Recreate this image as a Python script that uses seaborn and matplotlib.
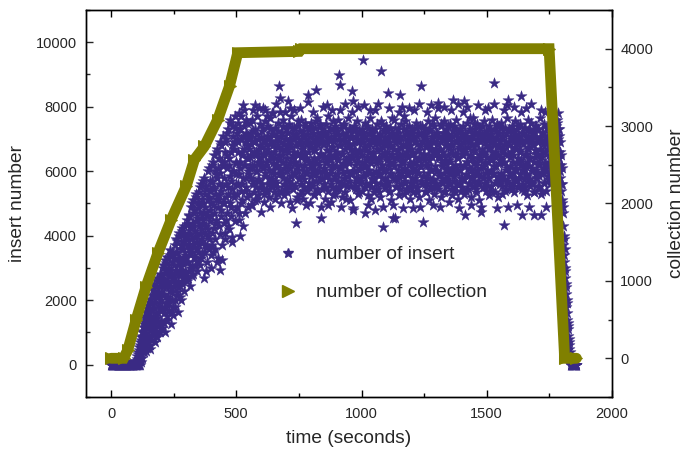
import numpy as np
import pandas as pd
import seaborn as sns
import matplotlib
matplotlib.use("Agg")
import matplotlib.pyplot as plt
from matplotlib.lines import Line2D
from matplotlib.ticker import MultipleLocator

sns.set_style("ticks")
plt.rcParams["font.family"] = ["Liberation Sans", "DejaVu Sans"]

# ---------------- data ----------------
# insert number read at even seconds, t = 0, 2, ..., 1858
insert_even = [
    # 0-48
    0, 0, 0, 0, 0, 0, 0, 0, 0, 0, 0, 0, 0, 0, 0, 0, 0, 0, 0, 0, 0, 0, 0, 0, 0,
    # 50-98
    0, 0, 0, 0, 0, 0, 0, 0, 0, 0, 0, 0, 0, 0, 0, 0, 0, 0, 0, 0, 0, 40, 0, 90, 0,
    # 100-148
    0, 180, 0, 320, 60, 450, 0, 620, 250, 780, 100, 880, 420, 1050, 560, 1250, 380, 980, 1450, 720, 1650, 1150, 520, 1580, 1850,
    # 150-198
    900, 1400, 620, 1950, 1100, 760, 1700, 2150, 980, 1500, 2300, 1250, 700, 1900, 2450, 1350, 850, 2100, 1600, 2600, 1050, 2250, 1750, 2800, 1300,
    # 200-248
    2000, 2700, 1150, 2400, 3000, 1600, 2200, 1000, 2850, 1900, 3150, 2500, 1400, 3300, 2100, 2750, 1700, 3400, 2300, 1250, 2950, 3500, 2000, 2600, 1550,
    # 250-298
    3100, 2400, 3700, 1800, 2800, 3450, 2150, 3850, 2600, 1650, 3300, 4000, 2450, 2950, 3600, 2000, 4150, 3150, 2700, 3800, 2300, 4300, 3400, 2850, 3950,
    # 300-348
    3300, 4500, 2600, 3700, 4100, 2900, 4650, 3500, 2450, 4250, 3900, 5000, 3100, 4400, 2800, 3650, 4800, 4150, 3300, 5200, 3800, 2900, 4550, 5050, 3500,
    # 350-398
    4300, 5350, 3100, 4700, 3900, 5600, 4200, 3400, 5000, 4500, 2700, 5800, 3700, 4900, 4300, 5450, 3200, 4650, 6000, 4000, 5200, 3600, 5700, 4450, 3000,
    # 400-448
    5000, 6200, 4100, 5500, 3500, 4700, 6500, 5300, 3900, 5900, 4500, 6700, 3200, 5100, 6100, 4300, 5600, 2950, 6900, 4800, 5400, 3700, 6300, 5000, 7100,
    # 450-498
    4400, 5800, 6600, 3900, 5200, 7000, 4700, 6100, 5500, 7300, 4200, 6400, 5000, 7600, 5700, 4600, 6800, 3950, 6000, 7400, 5300, 6700, 4800, 7700, 5900,
    # 500-548
    6300, 4900, 7200, 5600, 6900, 4500, 7800, 3980, 6100, 5400, 7000, 6600, 5100, 8050, 5800, 7400, 6200, 4700, 6900, 5500, 7600, 6400, 5200, 7100, 6000,
    # 550-598
    6700, 5300, 7500, 6100, 5800, 7200, 4950, 6500, 7900, 5600, 6900, 6200, 5100, 7300, 6600, 5500, 7700, 6000, 5250, 7000, 6400, 5700, 7450, 6800, 4750,
    # 600-648
    6150, 7250, 5450, 7960, 6550, 5050, 6950, 5850, 7550, 6300, 5350, 7100, 6700, 5600, 7400, 6050, 5200, 6850, 7650, 5750, 6450, 7150, 5500, 6250, 7800,
    # 650-698
    5900, 6600, 5150, 7350, 6200, 5650, 7050, 6750, 5300, 7500, 6350, 8630, 8270, 5950, 6900, 5400, 7200, 6500, 5800, 7600, 6100, 5250, 7000, 6650, 5550,
    # 700-748
    7300, 6000, 5350, 8170, 6800, 5700, 7450, 6250, 5050, 6950, 7700, 5600, 6400, 7150, 5450, 6600, 7350, 5900, 6300, 4390, 7050, 6150, 5200, 7550, 6500,
    # 750-798
    5750, 6850, 7250, 5300, 6450, 7600, 5850, 6700, 5150, 7100, 6200, 5500, 7400, 6550, 5950, 7000, 6350, 5400, 8375, 6900, 5650, 7300, 6100, 5000, 6750,
    # 800-848
    7500, 5550, 6300, 7150, 5900, 6650, 5250, 7350, 6050, 8530, 5700, 6950, 7650, 6400, 5350, 7050, 6200, 5800, 7400, 4550, 6550, 7200, 5450, 6850, 6000,
    # 850-898
    5600, 7100, 6450, 5150, 7450, 6250, 5850, 6900, 7700, 5400, 6600, 7250, 5950, 6350, 5050, 7000, 6750, 5500, 7550, 6150, 5750, 6950, 7300, 5300, 6500,
    # 900-948
    7150, 5900, 6400, 7600, 5450, 6800, 8997, 8680, 6100, 5650, 7350, 6550, 5200, 7000, 6250, 5800, 7450, 6700, 5350, 6950, 7200, 6000, 5550, 7650, 6350,
    # 950-998
    5700, 6850, 7300, 5100, 6500, 7050, 5950, 8480, 8170, 4800, 6650, 7400, 5500, 6200, 7100, 5800, 6450, 7550, 5300, 6900, 6050, 7250, 5650, 6600, 7000,
    # 1000-1048
    5400, 6300, 9463, 7150, 5850, 6750, 4700, 7500, 6150, 5600, 7000, 6450, 5250, 7350, 6600, 5950, 6850, 7650, 5500, 6250, 7200, 5750, 6550, 7050, 5350,
    # 1050-1098
    6400, 4800, 7300, 6000, 5650, 6900, 7450, 5450, 6350, 7100, 5900, 6700, 5200, 7550, 9100, 6200, 5800, 6950, 4285, 7250, 6500, 5550, 6800, 7400, 6050,
    # 1100-1148
    5700, 6600, 8430, 7000, 5350, 6300, 7350, 5950, 6750, 5100, 7200, 6450, 4550, 5800, 7600, 6150, 4545, 6900, 5500, 7050, 6400, 5750, 7300, 6650, 5250,
    # 1150-1198
    6950, 8375, 6200, 5600, 7450, 6550, 5850, 7100, 6350, 5300, 7700, 6050, 5700, 6800, 7250, 5450, 6500, 7000, 5900, 6700, 7400, 5150, 6250, 7150, 5650,
    # 1200-1248
    6600, 7300, 4857, 6100, 5550, 7050, 6450, 5800, 7500, 6300, 5350, 6850, 7200, 5950, 6650, 5200, 7400, 6150, 5700, 8633, 6950, 6400, 4440, 7150, 5850,
    # 1250-1298
    6550, 7350, 5400, 6200, 7000, 5650, 6800, 7550, 5950, 6350, 5100, 7250, 6700, 5500, 6050, 7450, 6450, 5750, 6900, 7100, 5300, 6600, 7650, 6000, 5600,
    # 1300-1348
    6850, 7200, 8117, 5450, 6400, 7050, 5900, 6650, 5200, 7400, 6150, 5700, 7000, 6500, 5350, 7550, 6250, 5800, 6950, 7300, 5550, 6100, 6750, 7150, 5050,
    # 1350-1398
    6350, 7450, 5650, 6800, 6000, 5250, 7100, 8220, 6550, 5850, 7350, 6200, 5500, 6900, 7600, 5950, 6450, 5150, 7050, 6700, 5600, 7250, 6050, 5400, 6850,
    # 1400-1448
    7150, 5750, 6500, 7400, 5300, 8170, 4650, 6600, 7000, 5900, 6300, 7500, 5450, 6750, 6100, 5650, 7300, 6950, 5200, 6400, 7050, 5800, 6650, 7650, 5550,
    # 1450-1498
    6250, 7200, 5950, 5350, 6850, 7450, 6050, 5700, 7000, 6500, 5100, 7350, 6350, 5850, 4750, 6700, 7100, 5500, 6150, 7550, 6600, 5650, 6900, 7250, 5400,
    # 1500-1548
    6450, 7000, 5800, 6300, 7400, 5250, 6750, 7150, 6000, 5550, 7600, 6400, 5900, 6950, 7300, 8740, 5350, 6600, 7050, 6150, 5700, 7450, 6500, 5200, 6850,
    # 1550-1598
    7200, 5600, 6350, 7500, 5950, 6700, 5300, 7050, 6250, 5750, 4340, 7350, 6550, 5450, 6900, 7650, 6100, 8220, 5650, 6800, 7250, 5850, 6450, 7000, 5500,
    # 1600-1648
    6600, 7400, 5950, 6300, 7100, 5350, 6750, 7550, 6050, 5700, 6950, 7300, 5500, 6400, 7000, 5800, 6650, 7450, 6200, 8323, 4650, 7200, 5600, 6850, 6100,
    # 1650-1698
    5400, 7350, 6500, 5900, 7050, 6300, 5250, 7600, 6700, 5750, 6150, 7250, 5550, 6900, 7500, 6000, 5650, 6800, 7150, 5350, 4650, 6450, 7400, 6050, 5800,
    # 1700-1748
    7000, 6550, 5500, 7300, 6200, 5850, 7650, 6400, 5300, 4650, 6950, 7200, 5950, 6600, 7450, 5650, 6250, 7050, 5400, 6850, 7350, 6000, 5750, 6700, 7100,
    # 1750-1798
    6300, 7200, 5600, 6900, 7500, 6100, 7000, 5800, 7400, 6600, 7600, 6800, 7300, 7400, 6900, 7600, 7100, 7800, 6600, 7300, 6200, 6900, 5800, 6500, 5400,
    # 1800-1848
    6100, 5100, 4300, 3700, 4000, 3200, 2700, 3000, 2200, 1800, 2000, 1400, 900, 1100, 500, 600, 200, 300, 0, 100, 0, 0, 0, 0, 0,
    # 1850-1858
    0, 0, 0, 0, 0,
]

# insert number read at odd seconds, t = 1, 3, ..., 1857
insert_odd = [
    # 1-49
    0, 0, 0, 0, 0, 0, 0, 0, 0, 0, 0, 0, 0, 0, 0, 0, 0, 0, 0, 0, 0, 0, 0, 0, 0,
    # 51-99
    0, 0, 0, 0, 0, 0, 0, 0, 0, 0, 0, 0, 0, 0, 0, 0, 0, 0, 0, 0, 0, 70, 0, 130, 0,
    # 101-149
    90, 0, 260, 0, 400, 150, 560, 0, 700, 340, 850, 200, 1000, 500, 1180, 650, 1350, 830, 1500, 420, 1280, 1750, 900, 1400, 700,
    # 151-199
    1650, 1200, 500, 2050, 1450, 850, 1900, 1300, 2350, 1000, 1750, 2500, 1150, 2050, 900, 1600, 2700, 1450, 2200, 1200, 2450, 1900, 1000, 2650, 1700,
    # 201-249
    1350, 2550, 1800, 3100, 2150, 1300, 2650, 3250, 1750, 2400, 2900, 1500, 3350, 2050, 2600, 3000, 1900, 2450, 3550, 1600, 2800, 3200, 2250, 1800, 3400,
    # 251-299
    2700, 3300, 2000, 2550, 3900, 2900, 2250, 3500, 3100, 2400, 4100, 2800, 3250, 2100, 3700, 3050, 2550, 4250, 3600, 2850, 3350, 4050, 2650, 3750, 3200,
    # 301-349
    2850, 3900, 4350, 3200, 2700, 4600, 3600, 4050, 3000, 4900, 3450, 2750, 4300, 3750, 5100, 3350, 4700, 3950, 3050, 4450, 5300, 3600, 4000, 3200, 4850,
    # 351-399
    3700, 4950, 4100, 5500, 3300, 4550, 5150, 3850, 4350, 5700, 3500, 4750, 5300, 4050, 2900, 5550, 4600, 3650, 5100, 4200, 6100, 3900, 4800, 5400, 3400,
    # 401-449
    4600, 5700, 3700, 6300, 4950, 4250, 5450, 6000, 3600, 5150, 4400, 6600, 5800, 3300, 4900, 6400, 5250, 4050, 5950, 6800, 4600, 5550, 3250, 6150, 5050,
    # 451-499
    6300, 5000, 4100, 6900, 5600, 4500, 6500, 7200, 5300, 4300, 6200, 5850, 7500, 4900, 6600, 5450, 3800, 7100, 6000, 5200, 6900, 4450, 7350, 6250, 5600,
    # 501-549
    7000, 5300, 6600, 7500, 4700, 5900, 7300, 6300, 5000, 7700, 6500, 5600, 7100, 4300, 6700, 7900, 5400, 6200, 7200, 5800, 6800, 7500, 4900, 6400, 7000,
    # 551-599
    5900, 7050, 6450, 4950, 6850, 7600, 6150, 5700, 7250, 6600, 5350, 6950, 8050, 6000, 6550, 5150, 7150, 6300, 5750, 7950, 6700, 5500, 6250, 7050, 6450,
    # 601-649
    5600, 6750, 7350, 6100, 5300, 6500, 7900, 5950, 6850, 6200, 7700, 5450, 6600, 7000, 5800, 6350, 7300, 4900, 6950, 6500, 5650, 7800, 6050, 6800, 5350,
    # 651-699
    7150, 6400, 5700, 6950, 8100, 6150, 5500, 6750, 7250, 5900, 6500, 7850, 6050, 5000, 7100, 6700, 5950, 7400, 6300, 5600, 6850, 7850, 5450, 6200, 7000,
    # 701-749
    6400, 5750, 7200, 6600, 5500, 6950, 7950, 6100, 5850, 6750, 7350, 4850, 6500, 7000, 5950, 7900, 6250, 5550, 6800, 7150, 5100, 6550, 7400, 6050, 5800,
    # 751-799
    6900, 7950, 6200, 5600, 7000, 6550, 5400, 7250, 6750, 6000, 5750, 7500, 6400, 4950, 6850, 7150, 5950, 6600, 8150, 5500, 6300, 7050, 6800, 5850, 7350,
    # 801-849
    6150, 5650, 6900, 7850, 6400, 5300, 7000, 6650, 5900, 7550, 6250, 5450, 6800, 7200, 6000, 5700, 7450, 6550, 4900, 6950, 7300, 5800, 6450, 8000, 6100,
    # 851-899
    6850, 5500, 7200, 6300, 5900, 8050, 6650, 4950, 7050, 6450, 5750, 6950, 7350, 6050, 5600, 7900, 6200, 5250, 6750, 7100, 6500, 5850, 7400, 6150, 5450,
    # 901-949
    6600, 7250, 5700, 6350, 7000, 5500, 7900, 6800, 6100, 4900, 7150, 6550, 5950, 7400, 6200, 5600, 6900, 8100, 6350, 5150, 6750, 7100, 5850, 6450, 7300,
    # 951-999
    6250, 5550, 7050, 6700, 5900, 7850, 6400, 4850, 6850, 7250, 6000, 5650, 7350, 6550, 5450, 7000, 6300, 5800, 8000, 6650, 5350, 6950, 7200, 6100, 5700,
    # 1001-1049
    7300, 6500, 5850, 6900, 8050, 6200, 5500, 7100, 6650, 5950, 7400, 6350, 4950, 6800, 7200, 6050, 5650, 7900, 6450, 5150, 6950, 7300, 5900, 6600, 7050,
    # 1051-1099
    5750, 6850, 7900, 6250, 5450, 7000, 6700, 5950, 8100, 6400, 5350, 6900, 7150, 6100, 5600, 7450, 6550, 4900, 6750, 7300, 6000, 5800, 7050, 6450, 5500,
    # 1101-1149
    7250, 6350, 5650, 6900, 7950, 6150, 5400, 6800, 7100, 5900, 6550, 7650, 6250, 4950, 7000, 6700, 5750, 7350, 6400, 5550, 6950, 7200, 6050, 5850, 7850,
    # 1151-1199
    6500, 5450, 7050, 6750, 5950, 8000, 6300, 4850, 6850, 7300, 6100, 5650, 7550, 6600, 5400, 6950, 7150, 5900, 6450, 7950, 6200, 5500, 6800, 7250, 6000,
    # 1201-1249
    5800, 7000, 6550, 5350, 7900, 6250, 5700, 6900, 7350, 6050, 5500, 7100, 6650, 5950, 8100, 6400, 4900, 6800, 7200, 6150, 5600, 7400, 6500, 5850, 7050,
    # 1251-1299
    6350, 5600, 7150, 6750, 5350, 6950, 7850, 6200, 5800, 7300, 6500, 5450, 6850, 8050, 6050, 5700, 7050, 6600, 4950, 6900, 7400, 6150, 5550, 6700, 7200,
    # 1301-1349
    6000, 5500, 7950, 6450, 5850, 7050, 6700, 4900, 6900, 7450, 6250, 5650, 7200, 6600, 5950, 8000, 6350, 5400, 6800, 7100, 6050, 5750, 7400, 6500, 5600,
    # 1351-1399
    7000, 6300, 5900, 7900, 6650, 5450, 6850, 7250, 6100, 5700, 7400, 6550, 5350, 6950, 7150, 6000, 5600, 8100, 6400, 4850, 6750, 7300, 6200, 5800, 7050,
    # 1401-1449
    6550, 5500, 6900, 7850, 6150, 5750, 7200, 6700, 5400, 7050, 8000, 6300, 5850, 6950, 7250, 5600, 6500, 7650, 6050, 4950, 6800, 7100, 6400, 5950, 7450,
    # 1451-1499
    5700, 6650, 7300, 6200, 5450, 7000, 6850, 5900, 8050, 6400, 5600, 6950, 7200, 6100, 4900, 7400, 6600, 5800, 7050, 6500, 5500, 7900, 6250, 5950, 6800,
    # 1501-1549
    7150, 6050, 5550, 7950, 6700, 5800, 6900, 7300, 6350, 5400, 7050, 6600, 5950, 8100, 6150, 5650, 6850, 7250, 6450, 4850, 7000, 6750, 5850, 7400, 6250,
    # 1551-1599
    5750, 6950, 7350, 6450, 5550, 7100, 6650, 5850, 7900, 6300, 5400, 6800, 7200, 6050, 5700, 8050, 6550, 4900, 6900, 7300, 6150, 5950, 7050, 6600, 5450,
    # 1601-1649
    7250, 6500, 5650, 6950, 8000, 6100, 5800, 7150, 6700, 4950, 6850, 7400, 6250, 5550, 7050, 6600, 5900, 7850, 6350, 5450, 6900, 7200, 6050, 5750, 7350,
    # 1651-1699
    6200, 5500, 6950, 7950, 6550, 5850, 7100, 6750, 4900, 7300, 6400, 5700, 7000, 8100, 6100, 5600, 6850, 7250, 6300, 5350, 7050, 6650, 5950, 7400, 6500,
    # 1701-1749
    5800, 6900, 7300, 6250, 5550, 7050, 6700, 5950, 7900, 6450, 5400, 6850, 7200, 6100, 5650, 7850, 6600, 4900, 6950, 7350, 6150, 5850, 7100, 6500, 7000,
    # 1751-1799
    6800, 5900, 7300, 6500, 7100, 6200, 7500, 6700, 7200, 6400, 7000, 7400, 6900, 7100, 7500, 6800, 7300, 7000, 6400, 7100, 6000, 6600, 5600, 6200, 5000,
    # 1801-1849
    5600, 4700, 4900, 3900, 3400, 3600, 2900, 2500, 2400, 1900, 1600, 1200, 1300, 700, 800, 400, 150, 0, 0, 0, 0, 0, 0, 0, 0,
    # 1851-1857
    0, 0, 0, 0,
]

# collection number (right axis), read at the corners of the curve
collection_time = [0, 50, 67, 100, 140, 187, 240, 300, 333, 373, 426, 473, 506,
                   752, 760, 1749, 1811, 1858]
collection_number = [0, 0, 107, 496, 927, 1359, 1790, 2221, 2567, 2739, 3085, 3516, 3948,
                     3965, 4000, 4000, 0, 0]

star_color = "#3a2a84"
olive = "#808000"

df_ins = pd.concat([
    pd.DataFrame({"time": np.arange(len(insert_even)) * 2, "insert": insert_even}),
    pd.DataFrame({"time": np.arange(len(insert_odd)) * 2 + 1, "insert": insert_odd}),
]).sort_values("time").reset_index(drop=True)
df_col = pd.DataFrame({"time": collection_time, "collection": collection_number})

# ---------------- figure ----------------
fig = plt.figure(figsize=(6.84, 4.5), dpi=100)
ax = fig.add_axes([0.1257, 0.1178, 0.7690, 0.86])
ax2 = ax.twinx()

sns.scatterplot(data=df_ins, x="time", y="insert", ax=ax, marker="*", s=70,
                color=star_color, edgecolor=star_color, linewidth=0.3, legend=False)
sns.lineplot(data=df_col, x="time", y="collection", ax=ax2, color=olive,
             sort=False, estimator=None, lw=7.8, marker=">", markersize=8,
             markeredgecolor=olive, solid_joinstyle="miter", legend=False)

ax.set_xlim(-100, 2000)
ax.set_ylim(-1000, 11000)
ax2.set_ylim(-500, 4500)

tick_fs = 10.5
label_fs = 13.8

ax.xaxis.set_major_locator(MultipleLocator(500))
ax.xaxis.set_minor_locator(MultipleLocator(250))
ax.yaxis.set_major_locator(MultipleLocator(2000))
ax.yaxis.set_minor_locator(MultipleLocator(1000))
ax2.yaxis.set_major_locator(MultipleLocator(1000))
ax2.yaxis.set_minor_locator(MultipleLocator(500))

ax.tick_params(axis="x", which="both", direction="in", top=True, bottom=True,
               labelsize=tick_fs, pad=7, width=1.0, color="black")
ax.tick_params(axis="y", which="both", direction="in", left=True, right=False,
               labelsize=tick_fs, pad=6.5, width=1.0)
ax2.tick_params(axis="y", which="both", direction="in", right=True, left=False,
                labelsize=tick_fs, pad=6, width=1.0)
for a in (ax, ax2):
    a.tick_params(which="major", length=5.3)
    a.tick_params(which="minor", length=3)
    for sp in a.spines.values():
        sp.set_visible(True)
        sp.set_linewidth(1.0)
        sp.set_color("black")

ax.set_xlabel("time (seconds)", fontsize=label_fs, labelpad=7)
ax.set_ylabel("insert number", fontsize=label_fs, labelpad=7)
ax2.set_ylabel("collection number", fontsize=label_fs, labelpad=11)

handles = [
    Line2D([], [], ls="none", marker="*", markersize=7, color=star_color),
    Line2D([], [], ls="none", marker=">", markersize=8, color=olive),
]
ax2.legend(handles, ["number of insert", "number of collection"],
           loc="upper left", bbox_to_anchor=(0.366, 0.390), frameon=False,
           fontsize=label_fs, handlelength=1.0, handletextpad=0.94,
           labelspacing=1.06, borderpad=0, borderaxespad=0)

fig.savefig("out.png", dpi=100)
